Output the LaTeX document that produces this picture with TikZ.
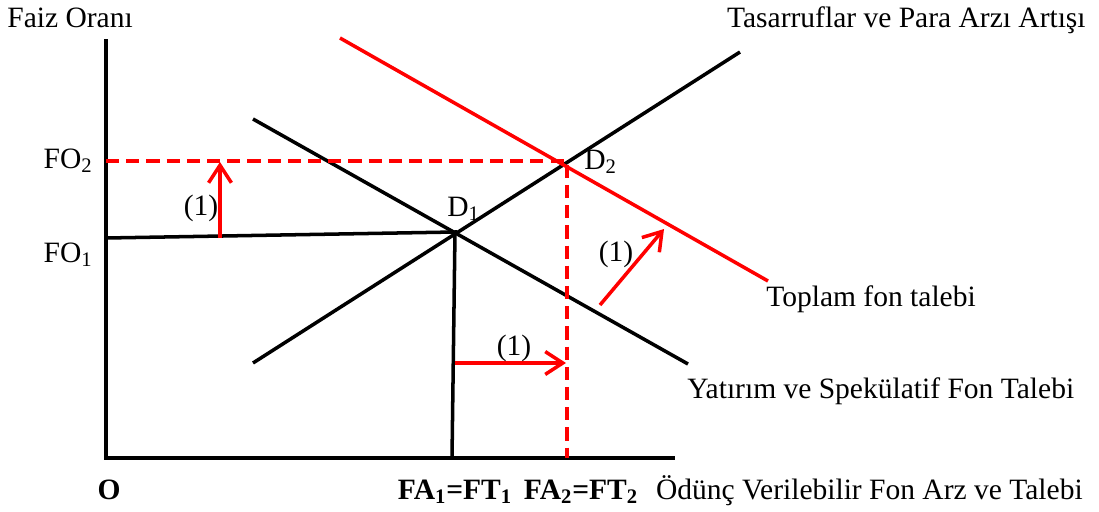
\documentclass[tikz,border=0pt]{standalone}
\usepackage{fontspec}
\setmainfont{Liberation Serif}
\usetikzlibrary{arrows.meta,positioning}

\begin{document}
\begin{tikzpicture}[x=0.02cm,y=-0.02cm,>={Straight Barb[length=10pt,width=13pt]},
  curve/.style={line width=2pt},
  redcurve/.style={red,line width=2pt},
  guide/.style={red,line width=2pt,dash pattern=on 7.5pt off 4pt},
  shiftarrow/.style={red,line width=2pt,->},
  lbl/.style={font=\fontsize{16.8}{18}\selectfont,inner sep=0pt}]
\useasboundingbox (0,0) rectangle (1099,511);
% axes
\coordinate (O) at (106,458);
\coordinate (ytop) at (106,39);
\coordinate (xend) at (675,458);
\draw[curve] (ytop) -- (O) -- (xend);
% curves
\coordinate (S1) at (253,363);
\coordinate (S2) at (740,52);
\coordinate (I1) at (253,119);
\coordinate (I2) at (688,364);
\coordinate (T1) at (340,38);
\coordinate (T2) at (768,281);
\coordinate (D1) at (455,232);
\coordinate (D2) at (567,161);
\draw[curve] (S1) -- (S2);
\draw[curve] (I1) -- (I2);
\draw[redcurve] (T1) -- (T2);
% old equilibrium
\coordinate (FOa) at (106,238);
\coordinate (FAa) at (452,458);
\draw[curve] (FOa) -- (D1) -- (FAa);
% new equilibrium
\coordinate (FOb) at (106,161);
\coordinate (FAb) at (567,458);
\draw[guide] (FOb) -- (D2) -- (FAb);
% shifts
\coordinate (up1) at (220,238);
\coordinate (up2) at (220,162);
\coordinate (rt1) at (455,363);
\coordinate (rt2) at (566,363);
\coordinate (dg1) at (600,305);
\coordinate (dg2) at (664,229);
\draw[shiftarrow] (up1) -- (up2);
\draw[shiftarrow] (rt1) -- (rt2);
\draw[shiftarrow] (dg1) -- (dg2);
% labels
\node (yl) [lbl, anchor=base west] at (7,27) {Faiz Oranı};
\node (sl) [lbl, anchor=base east] at (1086,27) {Tasarruflar ve Para Arzı Artışı};
\node (fo2) [lbl, anchor=base east] at (93,168) {FO\textsubscript{2}};
\node (fo1) [lbl, anchor=base east] at (93,262) {FO\textsubscript{1}};
\node (d1) [lbl, anchor=base west] at (447,216) {D\textsubscript{1}};
\node (d2) [lbl, anchor=base west] at (584,169) {D\textsubscript{2}};
\node (n1) [lbl] at (201,208) {(1)};
\node (n2) [lbl] at (514,348) {(1)};
\node (n3) [lbl] at (616,254) {(1)};
\node (tl) [lbl, anchor=base west] at (766,306) {Toplam fon talebi};
\node (il) [lbl, anchor=base west] at (687,398) {Yatırım ve Spekülatif Fon Talebi};
\node (xl) [lbl, anchor=base east] at (1083,499) {Ödünç Verilebilir Fon Arz ve Talebi};
\node (ol) [lbl, anchor=base] at (109,499) {\textbf{O}};
\node (fa1) [lbl, anchor=base] at (455,499) {\textbf{FA\textsubscript{1}=FT\textsubscript{1}}};
\node (fa2) [lbl, anchor=base] at (581,499) {\textbf{FA\textsubscript{2}=FT\textsubscript{2}}};
\end{tikzpicture}
\end{document}
